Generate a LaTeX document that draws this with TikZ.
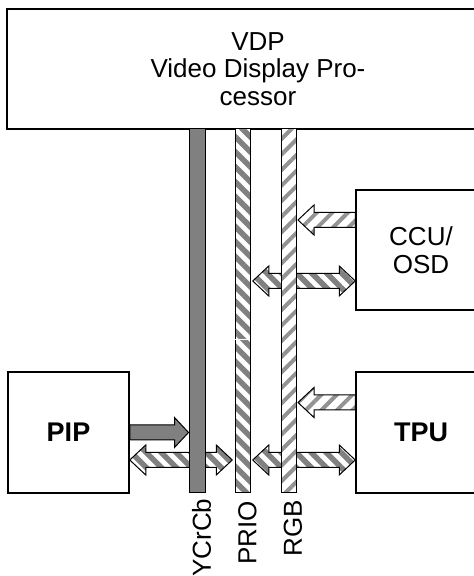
\documentclass[tikz,border=0pt]{standalone}
\usepackage{fontspec}
\setmainfont{Liberation Sans}
\usetikzlibrary{calc,patterns.meta,backgrounds}
\tikzset{% looks of units, buses and block arrows
    unit/.style={draw=black, line width=1.5pt, align=center, inner sep=0pt,
        font=\fontsize{26}{27.5}\selectfont},
    boldunit/.style={unit, font=\fontsize{27}{28}\selectfont\bfseries},
    bus/.style={draw=black, line width=1pt, inner sep=0pt, minimum width=15pt, minimum height=364pt},
    fullbus/.style={fill=gray, draw=black, line width=1pt},
    striped/.style={draw=black, line width=1pt, preaction={fill=white},
        pattern={Lines[angle=-45,distance=10.6pt,line width=5.5pt]}, pattern color=gray},
    thinstriped/.style={draw=black, line width=1pt, preaction={fill=white},
        pattern={Lines[angle=45,distance=11pt,line width=4pt]}, pattern color=gray!85},
    busname/.style={rotate=90, anchor=east, inner sep=0pt, font=\fontsize{26}{27}\selectfont}}
% block arrows: style, tip/start, end
\newcommand{\leftblock}[3]{%
    \draw[#1] (#2) -- ++(16,15) -- ++(0,-7.5) -- ($(#3)+(0,7.5)$) -- ++(0,-15)
        -- ($(#2)+(16,-7.5)$) -- ++(0,-7.5) -- cycle;}
\newcommand{\rightblock}[3]{%
    \draw[#1] ($(#2)+(0,7.5)$) -- ($(#3)+(-14,7.5)$) -- ++(0,7.5) -- (#3) -- ++(-14,-15)
        -- ++(0,7.5) -- ($(#2)+(0,-7.5)$) -- cycle;}
\newcommand{\twoblock}[3]{%
    \draw[#1] (#2) -- ++(16,15) -- ++(0,-7.5) -- ($(#3)+(-16,7.5)$) -- ++(0,7.5) -- (#3)
        -- ++(-16,-15) -- ++(0,7.5) -- ($(#2)+(16,-7.5)$) -- ++(0,-7.5) -- cycle;}

\begin{document}
\begin{tikzpicture}[x=1pt, y=1pt]
    \useasboundingbox (0,0) rectangle (474,576);
    \clip (0,0) rectangle (474,576);

    \node[unit, minimum width=502pt, minimum height=120pt] (vdp) at (258,507)
        {VDP\\Video Display Pro-\\cessor};
    \node[unit, minimum width=130pt, minimum height=120pt] (ccu) at (421,326) {CCU/\\OSD};
    \node[boldunit, minimum width=130pt, minimum height=121pt] (tpu) at (421,143.5) {TPU};
    \node[boldunit, minimum width=121pt, minimum height=121pt] (pip) at (68.5,143.5) {PIP};

    \node[bus, fullbus, minimum width=16pt] (ycrcb) at (197,265) {};
    \node[bus, striped] (prio) at (242.5,265) {};
    \node[bus, thinstriped] (rgb) at (288.5,265) {};
    \draw[white, line width=0.8pt] ($(prio.west)+(2,-28)$) -- ($(prio.east)+(-4,-28)$);

    \coordinate (ccuin) at ([yshift=30pt]ccu.west);
    \coordinate (ccuio) at ([yshift=-31pt]ccu.west);
    \coordinate (tpuin) at ([yshift=30pt]tpu.west);
    \coordinate (tpuio) at ([yshift=-27.5pt]tpu.west);
    \coordinate (pipout) at (pip.east);
    \coordinate (pipio) at ([yshift=-27.5pt]pip.east);

    \begin{scope}[on background layer]
        \leftblock{thinstriped}{rgb.east |- ccuin}{ccuin}
        \twoblock{striped}{prio.east |- ccuio}{ccuio}
        \leftblock{thinstriped}{rgb.east |- tpuin}{tpuin}
        \rightblock{fullbus}{pipout}{ycrcb.west |- pipout}
        \twoblock{striped}{pipio}{prio.west |- pipio}
        \twoblock{striped}{prio.east |- tpuio}{tpuio}
    \end{scope}

    \node[busname] at ([xshift=4.5pt,yshift=-5pt]ycrcb.south) {YCrCb};
    \node[busname] at ([xshift=5pt,yshift=-5pt]prio.south) {PRIO};
    \node[busname] at ([xshift=4.5pt,yshift=-5pt]rgb.south) {RGB};
\end{tikzpicture}
\end{document}
